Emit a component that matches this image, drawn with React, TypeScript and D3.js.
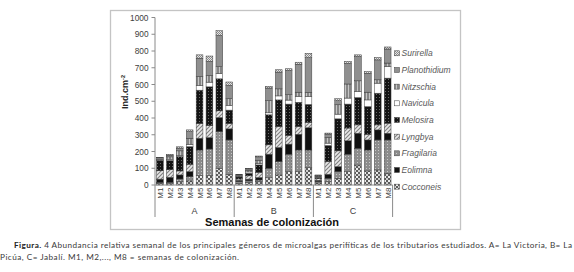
import React from "react";
import * as d3 from "d3";

const categories = ["M1", "M2", "M3", "M4", "M5", "M6", "M7", "M8"];
const groups = ["A", "B", "C"];
const yTicks = [0, 100, 200, 300, 400, 500, 600, 700, 800, 900, 1000];

// values per bar: A M1..M8, B M1..M8, C M1..M8
const Cocconeis = [10, 8, 20, 24, 56, 56, 100, 64, 10, 15, 20, 44, 60, 80, 80, 104, 12, 20, 40, 80, 119, 84, 90, 70];
const Fragilaria = [5, 8, 16, 26, 153, 159, 219, 205, 10, 10, 10, 56, 80, 104, 129, 105, 8, 20, 40, 104, 100, 125, 179, 199];
const Eolimna = [20, 30, 24, 30, 70, 68, 84, 66, 8, 10, 15, 84, 84, 60, 94, 133, 8, 24, 30, 80, 90, 60, 60, 40];
const Lyngbya = [50, 45, 24, 44, 88, 72, 40, 32, 8, 20, 30, 56, 125, 52, 46, 32, 10, 76, 94, 76, 50, 34, 30, 60];
const Melosira = [60, 55, 86, 105, 199, 231, 191, 80, 12, 15, 45, 179, 159, 187, 145, 107, 8, 96, 191, 143, 163, 165, 189, 269];
const Navicula = [2, 8, 6, 14, 28, 28, 32, 28, 3, 8, 8, 12, 24, 24, 36, 48, 3, 14, 28, 36, 36, 40, 60, 70];
const Nitzschia = [5, 14, 28, 36, 54, 40, 40, 40, 5, 10, 20, 72, 42, 32, 24, 24, 5, 34, 56, 84, 64, 46, 20, 20];
const Planothidium = [10, 10, 16, 40, 109, 84, 187, 80, 5, 8, 20, 76, 100, 145, 167, 207, 4, 20, 24, 123, 145, 113, 119, 84];
const Surirella = [3, 5, 8, 10, 20, 32, 28, 20, 3, 4, 5, 10, 14, 10, 12, 26, 2, 6, 12, 12, 10, 10, 14, 12];

const seriesData: Record<string, number[]> = {
  Cocconeis, Fragilaria, Eolimna, Lyngbya, Melosira, Navicula, Nitzschia, Planothidium, Surirella,
};
const stackOrder = ["Cocconeis", "Fragilaria", "Eolimna", "Lyngbya", "Melosira", "Navicula", "Nitzschia", "Planothidium", "Surirella"];
const legendOrder = ["Surirella", "Planothidium", "Nitzschia", "Navicula", "Melosira", "Lyngbya", "Fragilaria", "Eolimna", "Cocconeis"];

const fills: Record<string, string> = {
  Cocconeis: "url(#pCoc)",
  Fragilaria: "url(#pFrag)",
  Eolimna: "#111111",
  Lyngbya: "url(#pLyng)",
  Melosira: "url(#pMel)",
  Navicula: "#ffffff",
  Nitzschia: "url(#pNitz)",
  Planothidium: "#8f8f8f",
  Surirella: "url(#pSur)",
};

export default function App() {
  const W = 574, H = 272;
  const keys: string[] = [];
  groups.forEach((g) => categories.forEach((c) => keys.push(g + c)));
  const rows = keys.map((k, i) => {
    const r: any = { key: k };
    stackOrder.forEach((s) => (r[s] = seriesData[s][i]));
    return r;
  });
  const stacked = d3.stack<any>().keys(stackOrder)(rows);

  const x = d3.scaleBand<string>().domain(keys).range([155, 392.6]).paddingInner(0.32).paddingOuter(0.16);
  const y = d3.scaleLinear().domain([0, 1000]).range([185, 17.5]);
  const step = x.step();
  const groupEdges = [0, 8, 16, 24].map((i) => 155 + i * step);

  const axisFont = "'Liberation Sans', Arial, sans-serif";

  return (
    <svg width={W} height={H} style={{ position: "absolute", left: 0, top: 0, background: "#fff" }}>
      <defs>
        <pattern id="pCoc" width="4" height="4" patternUnits="userSpaceOnUse">
          <rect width="4" height="4" fill="#5c5c5c" />
          <rect x="0" y="0" width="2" height="2" fill="#eeeeee" />
          <rect x="2" y="2" width="2" height="2" fill="#cfcfcf" />
        </pattern>
        <pattern id="pFrag" width="3" height="3" patternUnits="userSpaceOnUse">
          <rect width="3" height="3" fill="#8c8c8c" />
          <rect x="0" y="0" width="1" height="1" fill="#c8c8c8" />
        </pattern>
        <pattern id="pLyng" width="4" height="4" patternUnits="userSpaceOnUse">
          <rect width="4" height="4" fill="#e8e8e8" />
          <path d="M0,4 L4,0 M-1,1 L1,-1 M3,5 L5,3" stroke="#808080" strokeWidth="1.1" />
        </pattern>
        <pattern id="pMel" width="3" height="3" patternUnits="userSpaceOnUse">
          <rect width="3" height="3" fill="#141414" />
          <rect x="1" y="1" width="1" height="1" fill="#6a6a6a" />
        </pattern>
        <pattern id="pNitz" width="3" height="3" patternUnits="userSpaceOnUse">
          <rect width="3" height="3" fill="#858585" />
          <rect x="0" y="0" width="1" height="3" fill="#c6c6c6" />
        </pattern>
        <pattern id="pSur" width="2" height="2" patternUnits="userSpaceOnUse">
          <rect width="2" height="2" fill="#e4e4e4" />
          <rect x="0" y="0" width="1" height="1" fill="#8a8a8a" />
          <rect x="1" y="1" width="1" height="1" fill="#8a8a8a" />
        </pattern>
      </defs>

      {/* chart frame */}
      <rect x={110.5} y={10.5} width={350} height={219} fill="none" stroke="#c4c4c4" strokeWidth={1.3} />

      {/* y axis */}
      <line x1={155} x2={155} y1={y(1000)} y2={y(0)} stroke="#8a8a8a" strokeWidth={1} />
      {yTicks.map((t) => (
        <g key={t}>
          <line x1={151.5} x2={155} y1={y(t)} y2={y(t)} stroke="#8a8a8a" strokeWidth={1} />
          <text x={148.5} y={y(t) + 3} textAnchor="end" fontFamily={axisFont} fontSize={8.3} fill="#404040">
            {t}
          </text>
        </g>
      ))}
      <text
        transform={`translate(128,92) rotate(-90)`}
        textAnchor="middle"
        fontFamily={axisFont}
        fontSize={9}
        fontWeight="bold"
        fill="#222"
      >
        Ind.cm<tspan fontSize={5.5} dy={-3.5}>-2</tspan>
      </text>

      {/* bars */}
      {stacked.map((s) => (
        <g key={s.key}>
          {s.map((d, i) => (
            <rect
              key={i}
              x={x(keys[i])}
              y={y(d[1])}
              width={x.bandwidth()}
              height={Math.max(0, y(d[0]) - y(d[1]))}
              fill={fills[s.key]}
              stroke="#3c3c3c"
              strokeWidth={0.5}
            />
          ))}
        </g>
      ))}

      {/* x axis */}
      <line x1={155} x2={392.6} y1={185} y2={185} stroke="#8a8a8a" strokeWidth={1} />
      {groupEdges.map((gx, i) => (
        <line key={i} x1={gx} x2={gx} y1={185} y2={217} stroke="#8a8a8a" strokeWidth={1} />
      ))}
      {keys.map((k) => (
        <text
          key={k}
          transform={`translate(${(x(k) as number) + x.bandwidth() / 2 + 3},187.5) rotate(-90)`}
          textAnchor="end"
          fontFamily={axisFont}
          fontSize={8}
          fill="#404040"
        >
          {k.slice(1)}
        </text>
      ))}
      {groups.map((g, i) => (
        <text
          key={g}
          x={(groupEdges[i] + groupEdges[i + 1]) / 2}
          y={214}
          textAnchor="middle"
          fontFamily={axisFont}
          fontSize={9}
          fill="#404040"
        >
          {g}
        </text>
      ))}
      <text x={272} y={225.5} textAnchor="middle" fontFamily={axisFont} fontSize={11} fontWeight="bold" fill="#111">
        Semanas de colonización
      </text>

      {/* legend */}
      {legendOrder.map((s, i) => {
        const cy = 53.3 + i * 16.67;
        return (
          <g key={s}>
            <rect x={394.5} y={cy - 2.5} width={5} height={5} fill={fills[s]} stroke="#3c3c3c" strokeWidth={0.5} />
            <text x={401.5} y={cy + 3} fontFamily={axisFont} fontSize={8.5} fontStyle="italic" fill="#595959">
              {s}
            </text>
          </g>
        );
      })}

      {/* caption */}
      <text x={14} y={248} fontFamily="Lato, 'Open Sans', sans-serif" fontSize={8.2} fill="#3a3a3a" textLength={558} lengthAdjust="spacing">
        <tspan fontWeight="bold" fill="#222">Figura.</tspan> 4 Abundancia relativa semanal de los principales géneros de microalgas perifíticas de los tributarios estudiados. A= La Victoria, B= La
      </text>
      <text x={0} y={260} fontFamily="Lato, 'Open Sans', sans-serif" fontSize={8.2} fill="#3a3a3a" textLength={239} lengthAdjust="spacing">
        Picúa, C= Jabalí. M1, M2,..., M8 = semanas de colonización.
      </text>
    </svg>
  );
}
